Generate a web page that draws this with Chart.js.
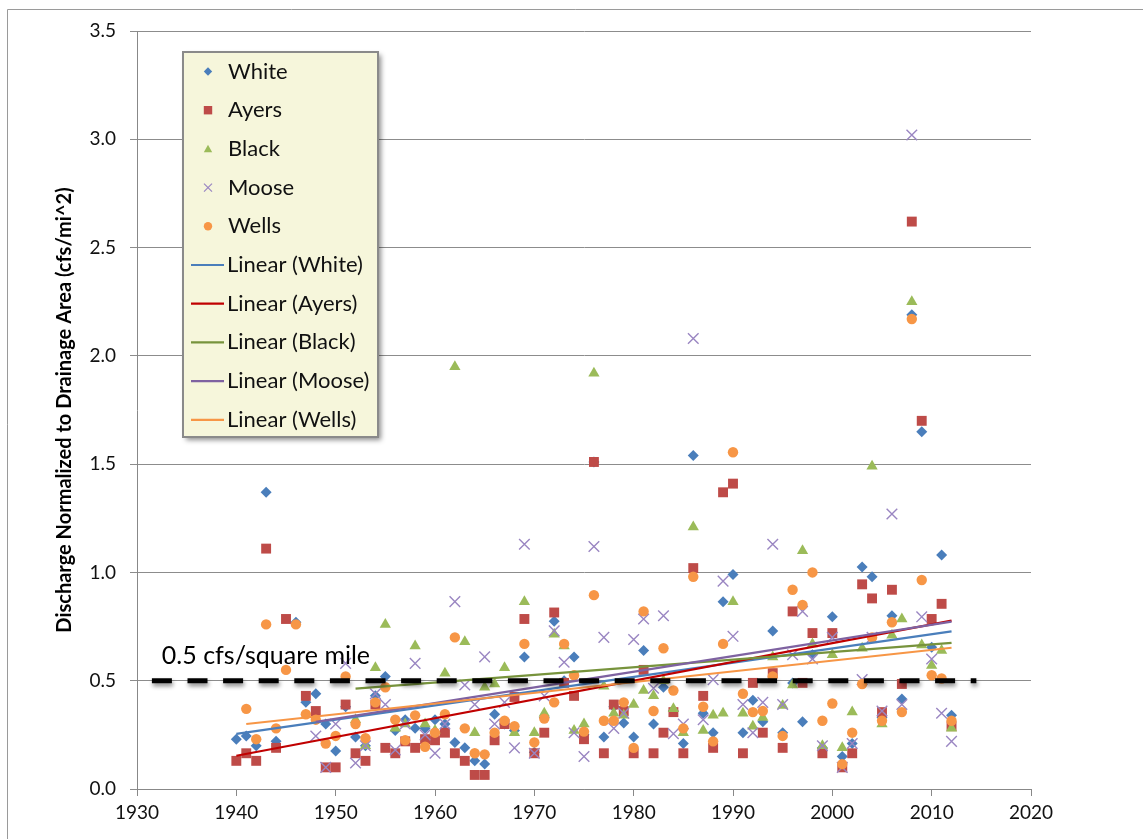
<!DOCTYPE html>
<html>
<head>
<meta charset="utf-8">
<script src="https://cdn.jsdelivr.net/npm/chart.js@4.4.1/dist/chart.umd.min.js"></script>
<style>
  html, body { margin: 0; padding: 0; background: #fff; }
  #wrap { position: absolute; left: 0; top: 0; width: 1143px; height: 839px; }
</style>
</head>
<body>
<div id="wrap"><canvas id="c" width="1143" height="839"></canvas></div>
<script>
// ---------------- DATA ----------------
const years = [1940,1941,1942,1943,1944,1945,1946,1947,1948,1949,
               1950,1951,1952,1953,1954,1955,1956,1957,1958,1959,
               1960,1961,1962,1963,1964,1965,1966,1967,1968,1969,
               1970,1971,1972,1973,1974,1975,1976,1977,1978,1979,
               1980,1981,1982,1983,1984,1985,1986,1987,1988,1989,
               1990,1991,1992,1993,1994,1995,1996,1997,1998,1999,
               2000,2001,2002,2003,2004,2005,2006,2007,2008,2009,
               2010,2011,2012];

const white = [0.23,0.245,0.20,1.37,0.22,null,0.77,0.40,0.44,0.30,
               0.175,0.38,0.24,0.20,0.43,0.52,0.27,0.32,0.28,0.28,
               0.32,0.30,0.215,0.19,0.13,0.115,0.345,0.30,0.27,0.61,
               0.17,0.33,0.775,0.50,0.61,0.25,1.51,0.24,0.38,0.305,
               0.24,0.64,0.30,0.47,0.36,0.21,1.54,0.35,0.26,0.865,
               0.99,0.26,0.41,0.31,0.73,0.26,0.49,0.31,0.62,0.19,
               0.795,0.15,0.21,1.025,0.98,0.33,0.80,0.415,2.19,1.65,
               0.655,1.08,0.34];

const ayers = [0.13,0.165,0.13,1.11,0.19,0.785,null,0.43,0.36,0.10,
               0.10,0.39,0.165,0.13,0.39,0.19,0.165,0.22,0.19,0.23,
               0.225,0.26,0.165,0.13,0.065,0.065,0.225,0.30,0.425,0.785,
               0.165,0.26,0.815,0.49,0.43,0.23,1.51,0.165,0.39,0.36,
               0.165,0.55,0.165,0.26,0.355,0.165,1.02,0.43,0.19,1.37,
               1.41,0.165,0.49,0.26,0.535,0.19,0.82,0.49,0.72,0.165,
               0.72,0.10,0.165,0.945,0.88,0.355,0.92,0.485,2.62,1.70,
               0.785,0.855,0.29];

const black = [null,null,null,null,null,null,null,null,null,null,
               null,null,0.32,0.20,0.56,0.76,0.28,0.30,0.66,0.30,
               0.27,0.535,1.95,0.68,0.26,0.47,0.485,0.56,0.26,0.865,
               0.26,0.35,0.715,0.66,0.27,0.30,1.92,0.475,0.35,0.34,
               0.39,0.455,0.43,0.50,0.37,0.26,1.21,0.27,0.34,0.35,
               0.865,0.35,0.29,0.33,0.61,0.385,0.48,1.10,0.67,0.20,
               0.62,0.19,0.355,0.65,1.49,0.30,0.71,0.785,2.25,0.665,
               0.57,0.64,0.28];

const moose = [null,null,null,null,null,null,null,null,0.245,0.10,
               0.30,0.58,0.12,0.20,0.44,0.39,0.18,0.30,0.58,0.25,
               0.165,0.30,0.865,0.48,0.39,0.61,0.30,0.40,0.19,1.13,
               0.165,0.43,0.73,0.585,0.26,0.15,1.12,0.70,0.28,0.35,
               0.69,0.785,0.465,0.80,0.255,0.30,2.08,0.32,0.505,0.96,
               0.705,0.39,0.26,0.40,1.13,0.39,0.62,0.82,0.60,0.20,
               0.70,0.10,0.21,0.505,0.70,0.36,1.27,0.39,3.02,0.795,
               0.60,0.35,0.22];

const wells = [null,0.37,0.23,0.76,0.28,0.55,0.76,0.345,0.32,0.21,
               0.245,0.52,0.30,0.235,0.40,0.47,0.32,0.225,0.34,0.195,
               0.26,0.345,0.70,0.28,0.165,0.16,0.26,0.315,0.29,0.67,
               0.215,0.325,0.40,0.67,0.525,0.265,0.895,0.315,0.315,0.40,
               0.19,0.82,0.36,0.65,0.455,0.28,0.98,0.38,0.22,0.67,
               1.555,0.44,0.355,0.36,0.52,0.245,0.92,0.85,1.00,0.315,
               0.395,0.115,0.26,0.485,0.70,0.315,0.77,0.355,2.17,0.965,
               0.525,0.51,0.315];

const thresholdValue = 0.5;
const thresholdSpan = [1931.5, 2014.5];
const thresholdLabel = '0.5 cfs/square mile';
const yTitle = 'Discharge Normalized to Drainage Area (cfs/mi^2)';

// ---------------- HELPERS ----------------
function pts(vals) {
  const out = [];
  vals.forEach((v, i) => { if (v !== null) out.push({ x: years[i], y: v }); });
  return out;
}
function trend(vals) {
  const p = pts(vals);
  const n = p.length;
  let sx = 0, sy = 0, sxx = 0, sxy = 0;
  p.forEach(q => { sx += q.x; sy += q.y; sxx += q.x * q.x; sxy += q.x * q.y; });
  const b = (n * sxy - sx * sy) / (n * sxx - sx * sx);
  const a = (sy - b * sx) / n;
  const x0 = p[0].x, x1 = p[n - 1].x;
  return [{ x: x0, y: a + b * x0 }, { x: x1, y: a + b * x1 }];
}

const FONT = 'Lato, "Open Sans", "DejaVu Sans", sans-serif';

const series = [
  { name: 'White', data: white, style: 'rectRot', radius: 5.5, color: '#4A7EBB', line: '#4A7EBB' },
  { name: 'Ayers', data: ayers, style: 'rect', radius: 7, color: '#BE4B48', line: '#C00000' },
  { name: 'Black', data: black, style: 'triangle', radius: 6.5, color: '#9BBB59', line: '#77933C' },
  { name: 'Moose', data: moose, style: 'crossRot', radius: 7.5, color: '#9A86C2', line: '#7E62A1' },
  { name: 'Wells', data: wells, style: 'circle', radius: 5.2, color: '#F79646', line: '#F79646' }
];

const datasets = [];
datasets.push({
  label: 'threshold',
  data: thresholdSpan.map(x => ({ x: x, y: thresholdValue })),
  showLine: true, borderColor: '#000', borderWidth: 5, borderDash: [20, 15.6],
  pointRadius: 0, order: 0, fill: false, isThreshold: true
});
series.forEach((s, i) => {
  datasets.push({
    label: 'Linear (' + s.name + ')',
    data: trend(s.data), showLine: true, borderColor: s.line, borderWidth: 2.2,
    pointRadius: 0, order: 1 + (4 - i) * 0.1, fill: false
  });
});
series.forEach((s, i) => {
  const isCross = s.style === 'crossRot';
  datasets.push({
    label: s.name,
    data: pts(s.data), showLine: false,
    pointStyle: s.style, pointRadius: s.radius,
    pointBackgroundColor: s.color,
    pointBorderColor: s.color,
    pointBorderWidth: isCross ? 1.4 : 0,
    order: 10 - i
  });
});

// ---------------- PLUGINS ----------------
const shadowPlugin = {
  id: 'shadowLine',
  beforeDatasetDraw(chart, args) {
    if (chart.data.datasets[args.index].isThreshold) {
      const ctx = chart.ctx;
      ctx.save();
      ctx.shadowColor = 'rgba(0,0,0,0.45)';
      ctx.shadowBlur = 4;
      ctx.shadowOffsetX = 1;
      ctx.shadowOffsetY = 3;
    }
  },
  afterDatasetDraw(chart, args) {
    if (chart.data.datasets[args.index].isThreshold) chart.ctx.restore();
  }
};

const framePlugin = {
  id: 'frame',
  beforeDraw(chart) {
    const ctx = chart.ctx;
    ctx.save();
    ctx.strokeStyle = '#9a9a9a';
    ctx.lineWidth = 1;
    ctx.beginPath();
    ctx.moveTo(7.5, 845);
    ctx.lineTo(7.5, 9.5);
    ctx.lineTo(1150, 9.5);
    ctx.stroke();
    ctx.restore();
  }
};

function drawMarker(ctx, style, x, y, r, color) {
  ctx.save();
  ctx.fillStyle = color; ctx.strokeStyle = color;
  ctx.beginPath();
  if (style === 'rectRot') {
    ctx.moveTo(x, y - r); ctx.lineTo(x + r, y); ctx.lineTo(x, y + r); ctx.lineTo(x - r, y); ctx.closePath(); ctx.fill();
  } else if (style === 'rect') {
    ctx.rect(x - r, y - r, 2 * r, 2 * r); ctx.fill();
  } else if (style === 'triangle') {
    ctx.moveTo(x, y - r); ctx.lineTo(x + r, y + r * 0.8); ctx.lineTo(x - r, y + r * 0.8); ctx.closePath(); ctx.fill();
  } else if (style === 'crossRot') {
    ctx.lineWidth = 1.2;
    ctx.moveTo(x - r, y - r); ctx.lineTo(x + r, y + r); ctx.moveTo(x + r, y - r); ctx.lineTo(x - r, y + r); ctx.stroke();
  } else {
    ctx.arc(x, y, r, 0, Math.PI * 2); ctx.fill();
  }
  ctx.restore();
}

const annotationPlugin = {
  id: 'annot',
  afterDatasetsDraw(chart) {
    const ctx = chart.ctx;
    const xs = chart.scales.x, ys = chart.scales.y;
    ctx.save();
    ctx.fillStyle = '#000';
    ctx.font = '25px ' + FONT;
    ctx.textBaseline = 'middle';
    ctx.textAlign = 'left';
    ctx.fillText(thresholdLabel, xs.getPixelForValue(1932.5), ys.getPixelForValue(thresholdValue) - 25);
    ctx.restore();
  },
  afterDraw(chart) {
    const ctx = chart.ctx;
    const bx = 183, by = 52, bw = 195, bh = 385;
    ctx.save();
    ctx.shadowColor = 'rgba(0,0,0,0.45)';
    ctx.shadowBlur = 5;
    ctx.shadowOffsetX = 3;
    ctx.shadowOffsetY = 3;
    ctx.fillStyle = '#F6F6DB';
    ctx.fillRect(bx, by, bw, bh);
    ctx.restore();
    ctx.save();
    ctx.strokeStyle = '#8a8a8a';
    ctx.lineWidth = 2;
    ctx.strokeRect(bx, by, bw, bh);
    ctx.font = '22px ' + FONT;
    ctx.fillStyle = '#111';
    ctx.textBaseline = 'middle';
    const rowH = 38.7, y0 = 71.5;
    series.forEach((s, i) => {
      const y = y0 + i * rowH;
      drawMarker(ctx, s.style, 208, y, s.style === 'crossRot' ? 4 : 4.2, s.color);
      ctx.fillStyle = '#111';
      ctx.fillText(s.name, 228, y);
    });
    series.forEach((s, i) => {
      const y = y0 + (i + 5) * rowH;
      ctx.strokeStyle = s.line; ctx.lineWidth = 2.2;
      ctx.beginPath(); ctx.moveTo(191, y); ctx.lineTo(224, y); ctx.stroke();
      ctx.fillStyle = '#111';
      ctx.fillText('Linear (' + s.name + ')', 227, y);
    });
    ctx.restore();
  }
};

// ---------------- CHART ----------------
new Chart(document.getElementById('c'), {
  type: 'scatter',
  data: { datasets: datasets },
  options: {
    responsive: false,
    animation: false,
    events: [],
    layout: { padding: { left: 0, top: 31, right: 112, bottom: 0 } },
    plugins: { legend: { display: false }, tooltip: { enabled: false } },
    scales: {
      x: {
        type: 'linear', min: 1930, max: 2020,
        afterFit(scale) { scale.height = 50; },
        ticks: { stepSize: 10, color: '#111', padding: 5, font: { family: FONT, size: 19 },
                 callback: v => String(v), maxRotation: 0 },
        grid: { drawOnChartArea: false, drawTicks: true, tickLength: 7, color: '#888', lineWidth: 1 },
        border: { color: '#888', width: 1 }
      },
      y: {
        min: 0, max: 3.5,
        afterFit(scale) { scale.width = 137; },
        ticks: { stepSize: 0.5, color: '#111', padding: 14, font: { family: FONT, size: 19 },
                 callback: v => Number(v).toFixed(1) },
        grid: { color: '#8c8c8c', lineWidth: 1, tickLength: 7 },
        border: { color: '#888', width: 1 },
        title: { display: true, text: yTitle, color: '#000',
                 font: { family: FONT, size: 20, weight: 'bold' }, padding: { top: 53, bottom: 0 } }
      }
    }
  },
  plugins: [framePlugin, shadowPlugin, annotationPlugin]
});
</script>
</body>
</html>
